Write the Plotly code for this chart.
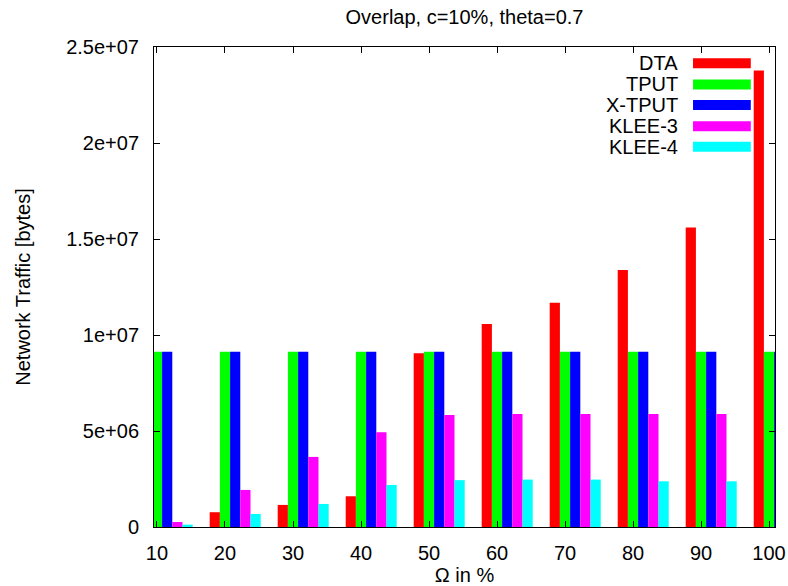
import plotly.graph_objects as go

# ---- data ----
omega = [10, 20, 30, 40, 50, 60, 70, 80, 90, 100]
series_names = ["DTA", "TPUT", "X-TPUT", "KLEE-3", "KLEE-4"]
dta = [4.0e5, 7.7e5, 1.15e6, 1.6e6, 9.05e6, 1.057e7, 1.168e7, 1.339e7, 1.56e7, 2.377e7]
tput = [9.13e6] * 10
xtput = [9.13e6] * 10
klee3 = [2.6e5, 1.93e6, 3.65e6, 4.94e6, 5.83e6, 5.88e6, 5.88e6, 5.88e6, 5.88e6, 5.88e6]
klee4 = [1.25e5, 6.8e5, 1.2e6, 2.19e6, 2.44e6, 2.47e6, 2.47e6, 2.38e6, 2.38e6, 2.4e6]
y_tickvals = [0, 5e6, 1e7, 1.5e7, 2e7, 2.5e7]
y_ticktext = ["0", "5e+06", "1e+07", "1.5e+07", "2e+07", "2.5e+07"]

values = [dta, tput, xtput, klee3, klee4]
colors = ["#ff0000", "#00ff00", "#0000ff", "#ff00ff", "#00ffff"]
offsets = [-2.25, -0.75, 0.75, 2.25, 3.75]
bar_w = 1.5

FONT = "Liberation Sans, Arial, sans-serif"

fig = go.Figure()
for name, vals, col, off in zip(series_names, values, colors, offsets):
    fig.add_trace(go.Bar(
        x=omega, y=vals, name=name, offset=off, width=bar_w,
        marker=dict(color=col, line=dict(width=0)),
        showlegend=False,
    ))

# gnuplot-style legend: text right-aligned, colour sample to its right
row_y = [0.966, 0.922, 0.879, 0.835, 0.792]
half_h = 0.0104
for name, col, yy in zip(series_names, colors, row_y):
    fig.add_annotation(
        x=0.847, y=yy, xref="paper", yref="paper", text=name,
        showarrow=False, xanchor="right", yanchor="middle",
        font=dict(family=FONT, size=20, color="black"),
    )
    fig.add_shape(
        type="rect", xref="paper", yref="paper",
        x0=0.868, x1=0.961, y0=yy - half_h, y1=yy + half_h,
        fillcolor=col, line=dict(width=0),
    )

fig.update_layout(
    width=788, height=586,
    margin=dict(l=154, r=13, t=47, b=59),
    paper_bgcolor="white", plot_bgcolor="white",
    barmode="overlay",
    font=dict(family=FONT, size=20, color="black"),
    title=dict(text="Overlap, c=10%, theta=0.7", x=0.5895, xanchor="center",
               y=1 - 17 / 586, yanchor="middle", yref="container",
               font=dict(family=FONT, size=20, color="black")),
    xaxis=dict(
        range=[9.56, 100.88], tickmode="array", tickvals=omega,
        ticks="inside", ticklen=6, tickcolor="black", mirror="ticks",
        showline=True, linecolor="black", linewidth=1, showgrid=False,
        zeroline=False, ticklabelstandoff=8, automargin=False,
        title=dict(text="Ω in %", standoff=11, font=dict(family=FONT, size=20)),
    ),
    yaxis=dict(
        range=[0, 2.5e7], tickmode="array", tickvals=y_tickvals, ticktext=y_ticktext,
        ticks="inside", ticklen=6, tickcolor="black", mirror="ticks",
        showline=True, linecolor="black", linewidth=1, showgrid=False,
        zeroline=False, ticklabelstandoff=10, automargin=False,
        title=dict(text="Network Traffic [bytes]", standoff=30, font=dict(family=FONT, size=20)),
    ),
)

fig.write_html("out.html")
